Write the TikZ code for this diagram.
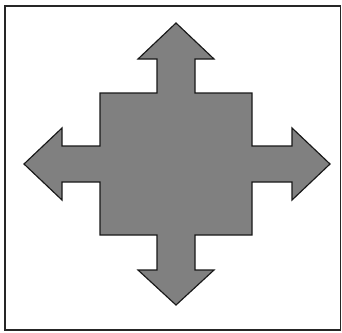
\documentclass[tikz,border=0pt]{standalone}
\usepackage{tikz}

\begin{document}
\begin{tikzpicture}[x=0.03cm, y=-0.03cm, frame/.style={draw=black!85, line width=1.1pt}, cross/.style={draw=black!90, line width=1pt, fill=black!50, line join=miter}]
\useasboundingbox (0,0) rectangle (342,332);
\draw[frame] (5,6) rectangle (340.5,330);
% square with four arrows
\draw[cross] (176,23) -- (214,59) -- (195,59) -- (195,93) -- (252,93) -- (252,146) -- (292,146) -- (292,128) -- (330,164) -- (292,200) -- (292,182) -- (252,182) -- (252,235) -- (195,235) -- (195,270) -- (214,270) -- (176,305) -- (138,270) -- (157,270) -- (157,235) -- (100,235) -- (100,182) -- (62,182) -- (62,200) -- (24,164) -- (62,128) -- (62,146) -- (100,146) -- (100,93) -- (157,93) -- (157,59) -- (138,59) -- cycle;
\end{tikzpicture}
\end{document}
